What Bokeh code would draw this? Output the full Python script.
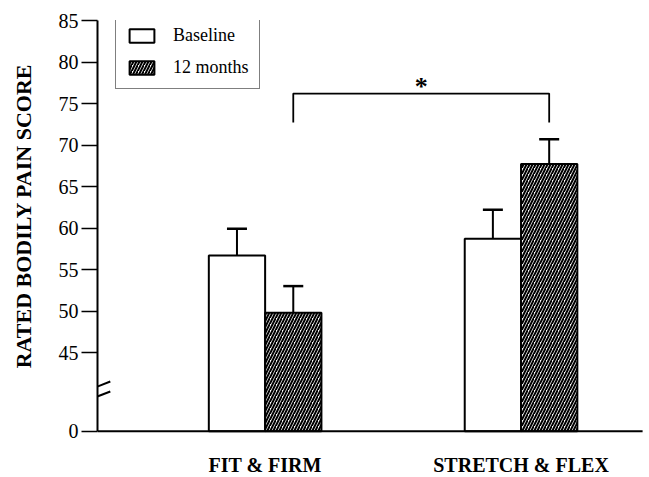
from bokeh.plotting import figure
from bokeh.models import (ColumnDataSource, Range1d, FixedTicker, Whisker, TeeHead,
                          Legend, LegendItem, Arrow)
from bokeh.embed import file_html
from bokeh.resources import INLINE
from bokeh.core.properties import value

# ---- data ----
categories = ["FIT & FIRM", "STRETCH & FLEX"]
baseline = [56.7, 58.7]
baseline_se = [3.2, 3.5]
months12 = [49.8, 67.7]
months12_se = [3.2, 3.0]
y_ticks = [45, 50, 55, 60, 65, 70, 75, 80, 85]
series_names = ["Baseline", "12 months"]
y_title = "RATED BODILY PAIN SCORE"

# ---- layout / style constants ----
ZERO_POS = 35.5          # display position of the broken-axis "0"
Y_TOP = 85
Y_START = 29.94          # frame extends below the baseline to hold category labels
X_START, X_END = -0.655, 1.502
AXIS_X_END = 1.475
BAR_W = 0.22
OFFSET = 0.11
FONT = "Liberation Serif"
BRACKET_Y = 76.2
BRACKET_DROP = 3.5
CAT_LABEL_Y = 31.45
TITLE_PAD = "\u00a0" * 12   # shifts the centred axis title up along the axis

grp = list(range(len(categories)))
x_base = [g - OFFSET for g in grp]
x_m12 = [g + OFFSET for g in grp]

src_b = ColumnDataSource(dict(x=x_base, top=baseline,
                              upper=[v + s for v, s in zip(baseline, baseline_se)]))
src_m = ColumnDataSource(dict(x=x_m12, top=months12,
                              upper=[v + s for v, s in zip(months12, months12_se)]))

p = figure(width=649, height=477, output_backend="svg", toolbar_location=None,
           x_range=Range1d(X_START, X_END), y_range=Range1d(Y_START, Y_TOP),
           x_axis_location=None,
           min_border_left=97, min_border_right=0, min_border_top=20, min_border_bottom=0)
p.outline_line_color = None
p.grid.visible = False
p.background_fill_color = "white"

r_b = p.vbar(x="x", top="top", bottom=ZERO_POS, width=BAR_W, source=src_b,
             fill_color="white", line_color="black", line_width=2)
r_m = p.vbar(x="x", top="top", bottom=ZERO_POS, width=BAR_W, source=src_m,
             fill_color="white", line_color="black", line_width=2,
             hatch_pattern="/", hatch_color="black", hatch_scale=6, hatch_weight=2)

for src in (src_b, src_m):
    w = Whisker(source=src, base="x", lower="top", upper="upper", dimension="height",
                line_color="black", line_width=2, lower_head=None,
                upper_head=TeeHead(size=20, line_color="black", line_width=2.5))
    p.add_layout(w)

# horizontal base axis line at the "0" position
p.line(x=[X_START, AXIS_X_END], y=[ZERO_POS, ZERO_POS], line_color="black", line_width=2)

# significance bracket between 12-month bars
bx0, bx1 = x_m12[0], x_m12[1]
p.line(x=[bx0, bx0, bx1, bx1],
       y=[BRACKET_Y - BRACKET_DROP, BRACKET_Y, BRACKET_Y, BRACKET_Y - BRACKET_DROP],
       line_color="black", line_width=1.8)
p.text(x=[(bx0 + bx1) / 2], y=[BRACKET_Y + 0.8], text=["*"], text_font=value(FONT),
       text_font_size="26px", text_font_style="bold", text_align="center",
       text_baseline="alphabetic", text_color="black")

# category labels
p.text(x=grp, y=[CAT_LABEL_Y] * len(grp), text=categories, text_font=value(FONT),
       text_font_size="20px", text_font_style="bold", text_align="center",
       text_baseline="alphabetic", text_color="black")

# y axis
p.yaxis.bounds = (ZERO_POS, Y_TOP)
p.yaxis.ticker = FixedTicker(ticks=[ZERO_POS] + y_ticks)
p.yaxis.major_label_overrides = {ZERO_POS: "0"}
p.yaxis.major_label_text_font = FONT
p.yaxis.major_label_text_font_size = "20px"
p.yaxis.major_label_text_color = "black"
p.yaxis.major_tick_out = 16
p.yaxis.major_tick_in = 0
p.yaxis.major_tick_line_width = 1.5
p.yaxis.minor_tick_line_color = None
p.yaxis.major_label_standoff = 3
p.yaxis.axis_line_width = 2
p.yaxis.axis_label = TITLE_PAD + y_title
p.yaxis.axis_label_text_font = FONT
p.yaxis.axis_label_text_font_style = "bold"
p.yaxis.axis_label_text_font_size = "22px"
p.yaxis.axis_label_text_color = "black"
p.yaxis.axis_label_standoff = 20

# axis break marks
for yb in (40.9, 39.7):
    p.add_layout(Arrow(start=None, end=None, x_start=X_START - 0.05, y_start=yb - 0.6,
                       x_end=X_START + 0.05, y_end=yb + 0.6, line_color="black", line_width=2))

legend = Legend(items=[LegendItem(label=series_names[0], renderers=[r_b]),
                       LegendItem(label=series_names[1], renderers=[r_m])],
                location=(18, 388), glyph_width=31, glyph_height=17, label_height=17,
                spacing=11, padding=10, label_standoff=16, label_text_font=FONT,
                label_text_font_size="18px", label_text_color="black",
                border_line_color="black", border_line_width=1.5,
                background_fill_color="white", background_fill_alpha=1.0)
p.add_layout(legend)

open("out.html", "w").write(file_html(p, INLINE))
